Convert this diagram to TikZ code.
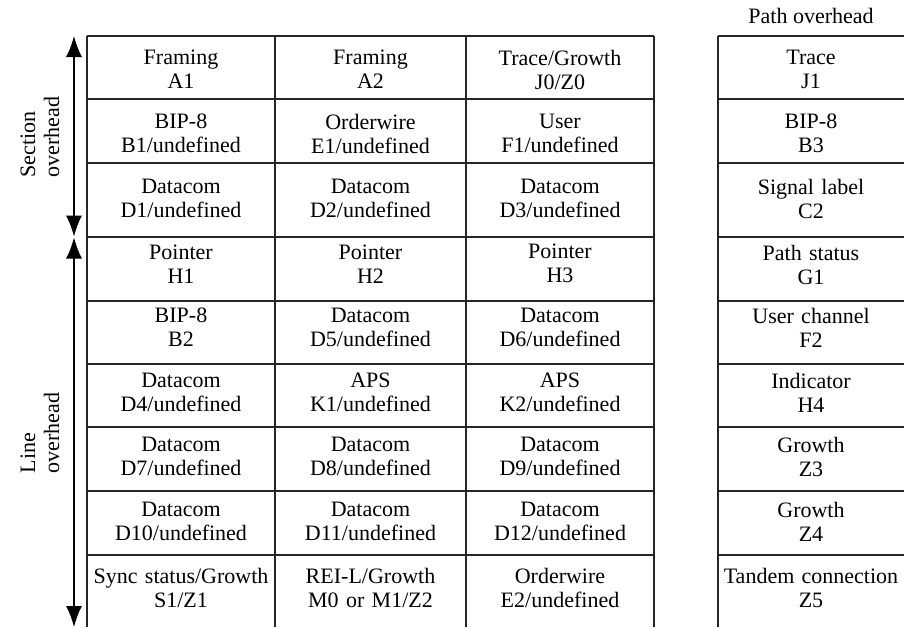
\documentclass[tikz,border=0pt]{standalone}
\usepackage{fontspec}
\setmainfont{Liberation Serif}
\usetikzlibrary{arrows.meta,calc}
\tikzset{
cell/.style={
  text width=185pt,
  align=center,
  inner sep=0pt,
  font=\fontsize{22}{24}\selectfont
  },
sidelabel/.style={rotate=90, align=left, inner sep=0pt, font=\fontsize{22}{24}\selectfont},
gridline/.style={line width=1.4pt, draw=black!85},
span/.style={line width=1.4pt, {Latex[length=21pt,width=16pt]}-{Latex[length=21pt,width=16pt]}}
}

\begin{document}
\begin{tikzpicture}[x=1pt,y=-1pt]
  \useasboundingbox (0,0) rectangle (904,627);

  % grid of the transport overhead
  \foreach \y in {36,99,163,301,364,427,491,555}
    \draw[gridline] (87,\y) -- (654,\y);
  \draw[gridline, line width=2.6pt] (87,237) -- (654,237);
  \foreach \x in {87,275,466,654}
    \draw[gridline] (\x,36) -- (\x,627);

  % grid of the path overhead
  \foreach \y in {36,99,163,237,301,364,427,491,555}
    \draw[gridline] (718,\y) -- (904,\y);
  \draw[gridline] (718,36) -- (718,627);

  \node[cell] (A1)  at (181,69.5)  {Framing\\A1};
  \node[cell] (A2)  at (370.5,69.5) {Framing\\A2};
  \node[cell] (J0)  at (560,69.5)  {Trace/Growth\\J0/Z0};
  \node[cell] (B1)  at (181,133.5) {BIP-8\\B1/undefined};
  \node[cell] (E1)  at (370.5,133.5) {Orderwire\\E1/undefined};
  \node[cell] (F1)  at (560,133.5) {User\\F1/undefined};
  \node[cell] (D1)  at (181,198.5) {Datacom\\D1/undefined};
  \node[cell] (D2)  at (370.5,198.5) {Datacom\\D2/undefined};
  \node[cell] (D3)  at (560,198.5) {Datacom\\D3/undefined};

  \node[cell] (H1)  at (181,264.5) {Pointer\\H1};
  \node[cell] (H2)  at (370.5,264.5) {Pointer\\H2};
  \node[cell] (H3)  at (560,263) {Pointer\\H3};
  \node[cell] (B2)  at (181,327.5) {BIP-8\\B2};
  \node[cell] (D5)  at (370.5,327.5) {Datacom\\D5/undefined};
  \node[cell] (D6)  at (560,327.5) {Datacom\\D6/undefined};
  \node[cell] (D4)  at (181,392.5) {Datacom\\D4/undefined};
  \node[cell] (K1)  at (370.5,392.5) {APS\\K1/undefined};
  \node[cell] (K2)  at (560,392.5) {APS\\K2/undefined};
  \node[cell] (D7)  at (181,456.5) {Datacom\\D7/undefined};
  \node[cell] (D8)  at (370.5,456.5) {Datacom\\D8/undefined};
  \node[cell] (D9)  at (560,456.5) {Datacom\\D9/undefined};
  \node[cell] (D10) at (181,521.5) {Datacom\\D10/undefined};
  \node[cell] (D11) at (370.5,521.5) {Datacom\\D11/undefined};
  \node[cell] (D12) at (560,521.5) {Datacom\\D12/undefined};
  \node[cell] (S1)  at (181,587.5) {Sync status/Growth\\S1/Z1};
  \node[cell] (M0)  at (370.5,587.5) {REI-L/Growth\\M0 or M1/Z2};
  \node[cell] (E2)  at (560,587.5) {Orderwire\\E2/undefined};

  % path overhead column
  \node[font=\fontsize{22}{24}\selectfont, inner sep=0pt] (path) at (811,16) {Path overhead};
  \node[cell] (J1) at (811,69.5)  {Trace\\J1};
  \node[cell] (B3) at (811,133.5) {BIP-8\\B3};
  \node[cell] (C2) at (811,198.5) {Signal label\\C2};
  \node[cell] (G1) at (811,264.5) {Path status\\G1};
  \node[cell] (F2) at (811,327.5) {User channel\\F2};
  \node[cell] (H4) at (811,392.5) {Indicator\\H4};
  \node[cell] (Z3) at (811,456.5) {Growth\\Z3};
  \node[cell] (Z4) at (811,521.5) {Growth\\Z4};
  \node[cell, text width=190pt] (Z5) at (811,587.5) {Tandem connection\\Z5};

  % section / line spans
  \coordinate (sec-top) at (74,36);
  \coordinate (sec-bot) at (74,236.5);
  \coordinate (line-top) at (74,237.5);
  \coordinate (line-bot) at (74,627);
  \draw[span] (sec-top) -- (sec-bot);
  \draw[span] (line-top) -- (line-bot);
  \node[sidelabel] (section) at (40,137) {Section\\overhead};
  \node[sidelabel] (line) at (40,433) {Line\\overhead};

\end{tikzpicture}
\end{document}
